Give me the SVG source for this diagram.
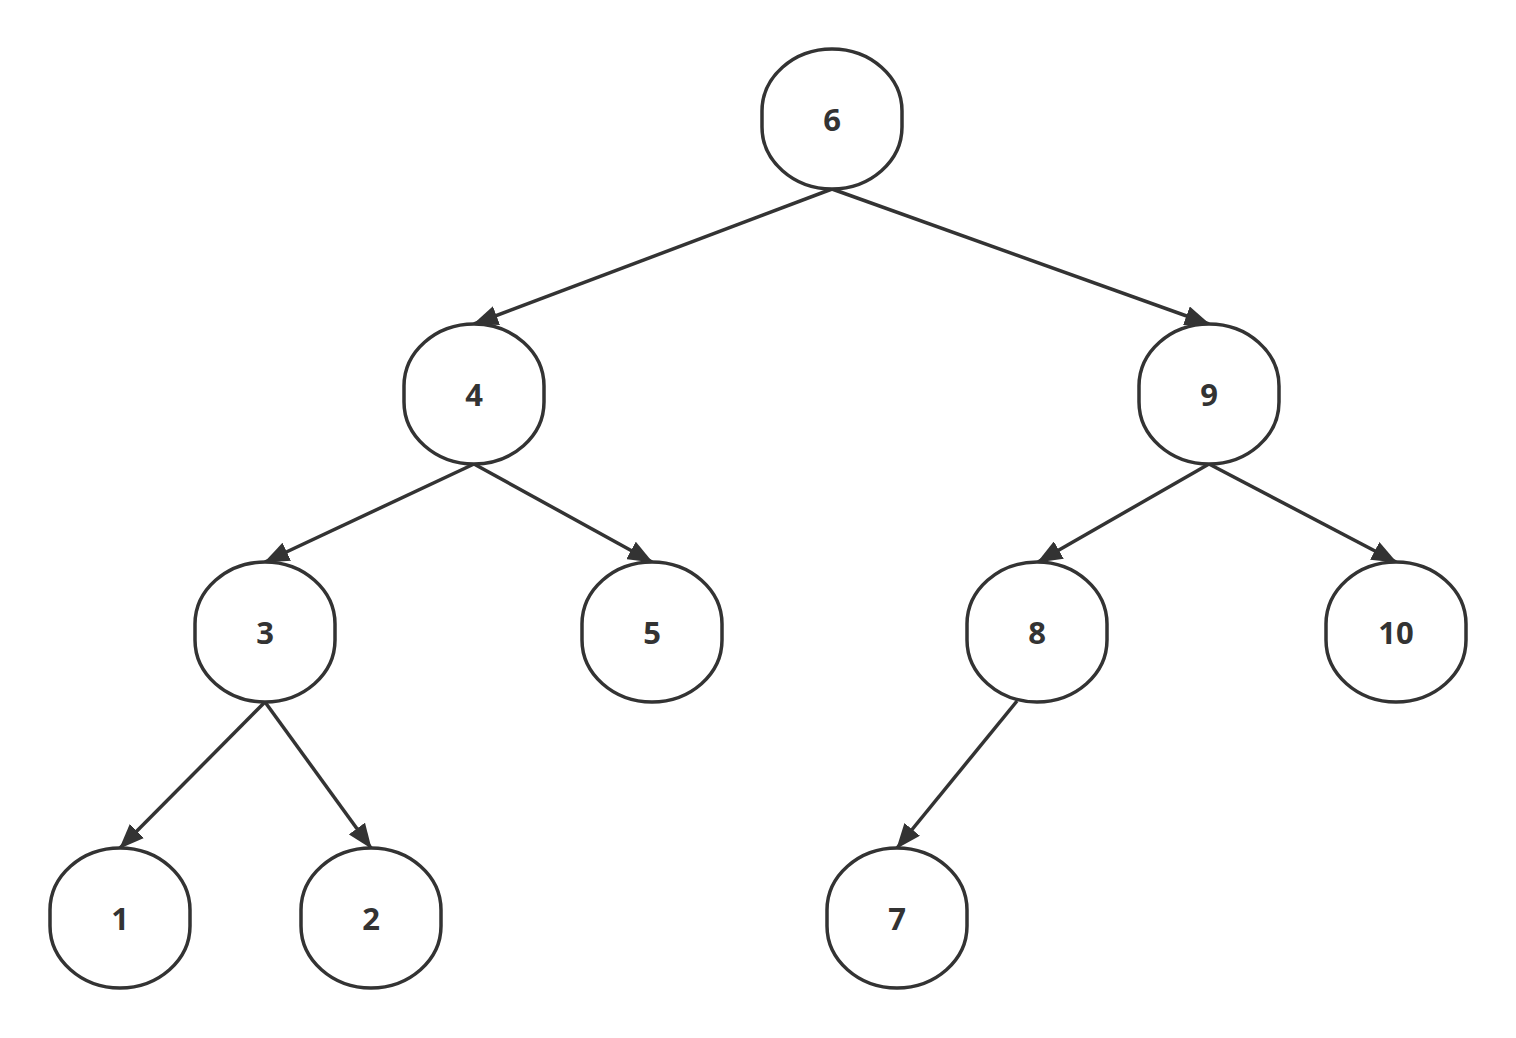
<svg xmlns="http://www.w3.org/2000/svg" xmlns:xlink="http://www.w3.org/1999/xlink" width="1516" height="1038" viewBox="0 0 1516 1038">
<style>
.node{fill:#fff;stroke:#333;stroke-width:3.5}
.lbl{font-family:"Open Sans","Noto Sans","Liberation Sans",sans-serif;font-weight:bold;font-size:31px;fill:#333;text-anchor:middle;dominant-baseline:central}
.edge{fill:none;stroke:#333;stroke-width:3.5;marker-end:url(#arr)}
</style>
<defs>
<path id="shape" d="M0,-70 C38.6,-70 70,-42 70,-8 L70,8 C70,42 38.6,70 0,70 C-38.6,70 -70,42 -70,8 L-70,-8 C-70,-42 -38.6,-70 0,-70 Z"/>
<marker id="arr" viewBox="0 0 25 20" refX="24" refY="10" markerWidth="25" markerHeight="20" markerUnits="userSpaceOnUse" orient="auto">
<path d="M0,0 L25,10 L0,20 Z" fill="#333"/>
</marker>
</defs>
<rect width="1516" height="1038" fill="#fff"/>
<g id="edges">
<path class="edge" d="M832,189 L474,324"/>
<path class="edge" d="M832,189 L1209,324"/>
<path class="edge" d="M474,464 L265,562"/>
<path class="edge" d="M474,464 L652,562"/>
<path class="edge" d="M1209,464 L1038,562"/>
<path class="edge" d="M1209,464 L1396,562"/>
<path class="edge" d="M265,702 L120,848"/>
<path class="edge" d="M265,702 L371,848"/>
<path class="edge" d="M1017,701 L897,848"/>
</g>
<g id="n6" transform="translate(832,119)"><use xlink:href="#shape" class="node"/><text class="lbl">6</text></g>
<g id="n4" transform="translate(474,394)"><use xlink:href="#shape" class="node"/><text class="lbl">4</text></g>
<g id="n9" transform="translate(1209,394)"><use xlink:href="#shape" class="node"/><text class="lbl">9</text></g>
<g id="n3" transform="translate(265,632)"><use xlink:href="#shape" class="node"/><text class="lbl">3</text></g>
<g id="n5" transform="translate(652,632)"><use xlink:href="#shape" class="node"/><text class="lbl">5</text></g>
<g id="n8" transform="translate(1037,632)"><use xlink:href="#shape" class="node"/><text class="lbl">8</text></g>
<g id="n10" transform="translate(1396,632)"><use xlink:href="#shape" class="node"/><text class="lbl">10</text></g>
<g id="n1" transform="translate(120,918)"><use xlink:href="#shape" class="node"/><text class="lbl">1</text></g>
<g id="n2" transform="translate(371,918)"><use xlink:href="#shape" class="node"/><text class="lbl">2</text></g>
<g id="n7" transform="translate(897,918)"><use xlink:href="#shape" class="node"/><text class="lbl">7</text></g>
</svg>
